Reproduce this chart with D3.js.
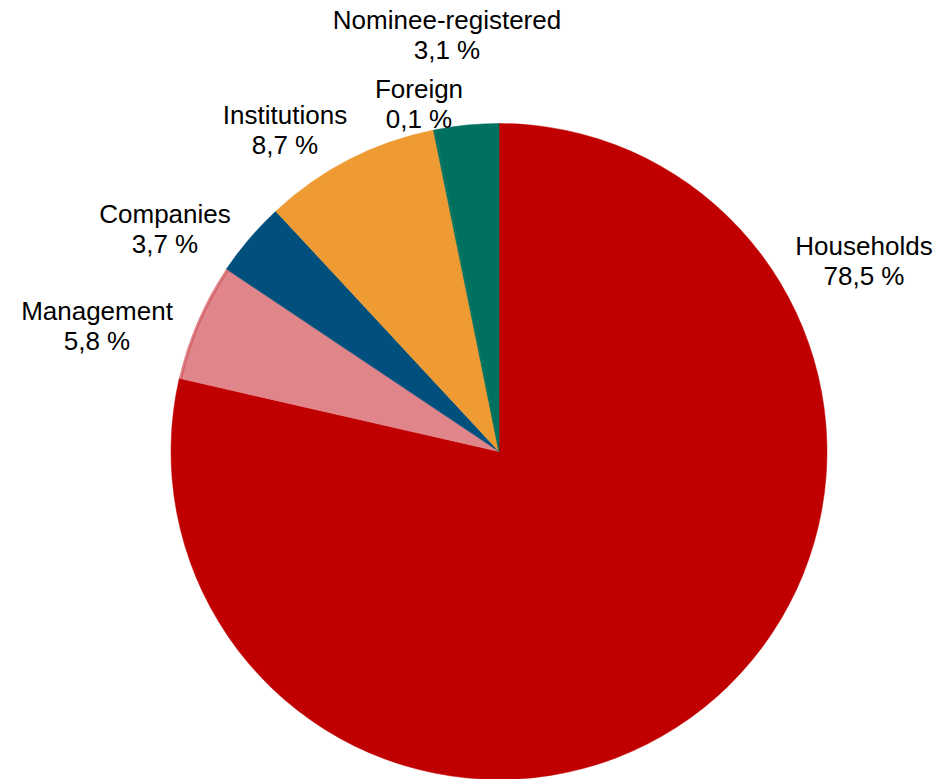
<!DOCTYPE html>
<html>
<head>
<meta charset="utf-8">
<script src="https://cdn.jsdelivr.net/npm/d3@7/dist/d3.min.js"></script>
<style>
  html, body { margin: 0; padding: 0; background: #fff; }
  svg { display: block; }
  text { font-family: "Liberation Sans", Arial, sans-serif; fill: #000; }
</style>
</head>
<body>
<script>
// Ownership structure by shareholder group (% of shares)
const categories = ["Households", "Management", "Companies", "Institutions", "Foreign", "Nominee-registered"];
const shares     = [78.5, 5.8, 3.7, 8.7, 0.1, 3.1];
const valueLabels = ["78,5 %", "5,8 %", "3,7 %", "8,7 %", "0,1 %", "3,1 %"];
const colors     = ["#C00000", "#E0858A", "#004F7C", "#EF9B33", "#00715F", "#00715F"];

// Label anchor offsets (first-line baseline centre) from the pie centre
const labelOffsets = [[365, -197], [-402, -132], [-334, -229], [-214, -328], [-80, -354], [-52, -423]];

const W = 949, H = 779;
const cx = 499, cy = 451.5, R = 328;
const fontSize = 26, lineGap = 30;

const svg = d3.select("body").append("svg")
  .attr("width", W).attr("height", H);

const data = categories.map((c, i) => ({ name: c, value: shares[i], label: valueLabels[i], color: colors[i], off: labelOffsets[i] }));

const pie = d3.pie().value(d => d.value).sort(null);
const arc = d3.arc().innerRadius(0).outerRadius(R);
const arcs = pie(data);

const g = svg.append("g").attr("transform", `translate(${cx},${cy})`);

g.selectAll("path.slice")
  .data(arcs)
  .join("path")
  .attr("class", "slice")
  .attr("d", arc)
  .attr("fill", d => d.data.color)
  .attr("stroke", d => d.data.color)
  .attr("stroke-width", 0.5);

// Thin rim line along the outer edge of the Management slice
const rim = d3.arc().innerRadius(R - 2.2).outerRadius(R - 2.2);
g.append("path")
  .datum(arcs[1])
  .attr("d", rim)
  .attr("fill", "none")
  .attr("stroke", "#D4636C")
  .attr("stroke-width", 1.6);

// Category name and share, two lines each
const labels = g.selectAll("g.label")
  .data(arcs)
  .join("g")
  .attr("class", "label")
  .attr("transform", d => `translate(${d.data.off[0]},${d.data.off[1]})`);

labels.append("text")
  .attr("text-anchor", "middle")
  .attr("font-size", fontSize)
  .text(d => d.data.name);

labels.append("text")
  .attr("text-anchor", "middle")
  .attr("font-size", fontSize)
  .attr("y", lineGap)
  .text(d => d.data.label);
</script>
</body>
</html>
